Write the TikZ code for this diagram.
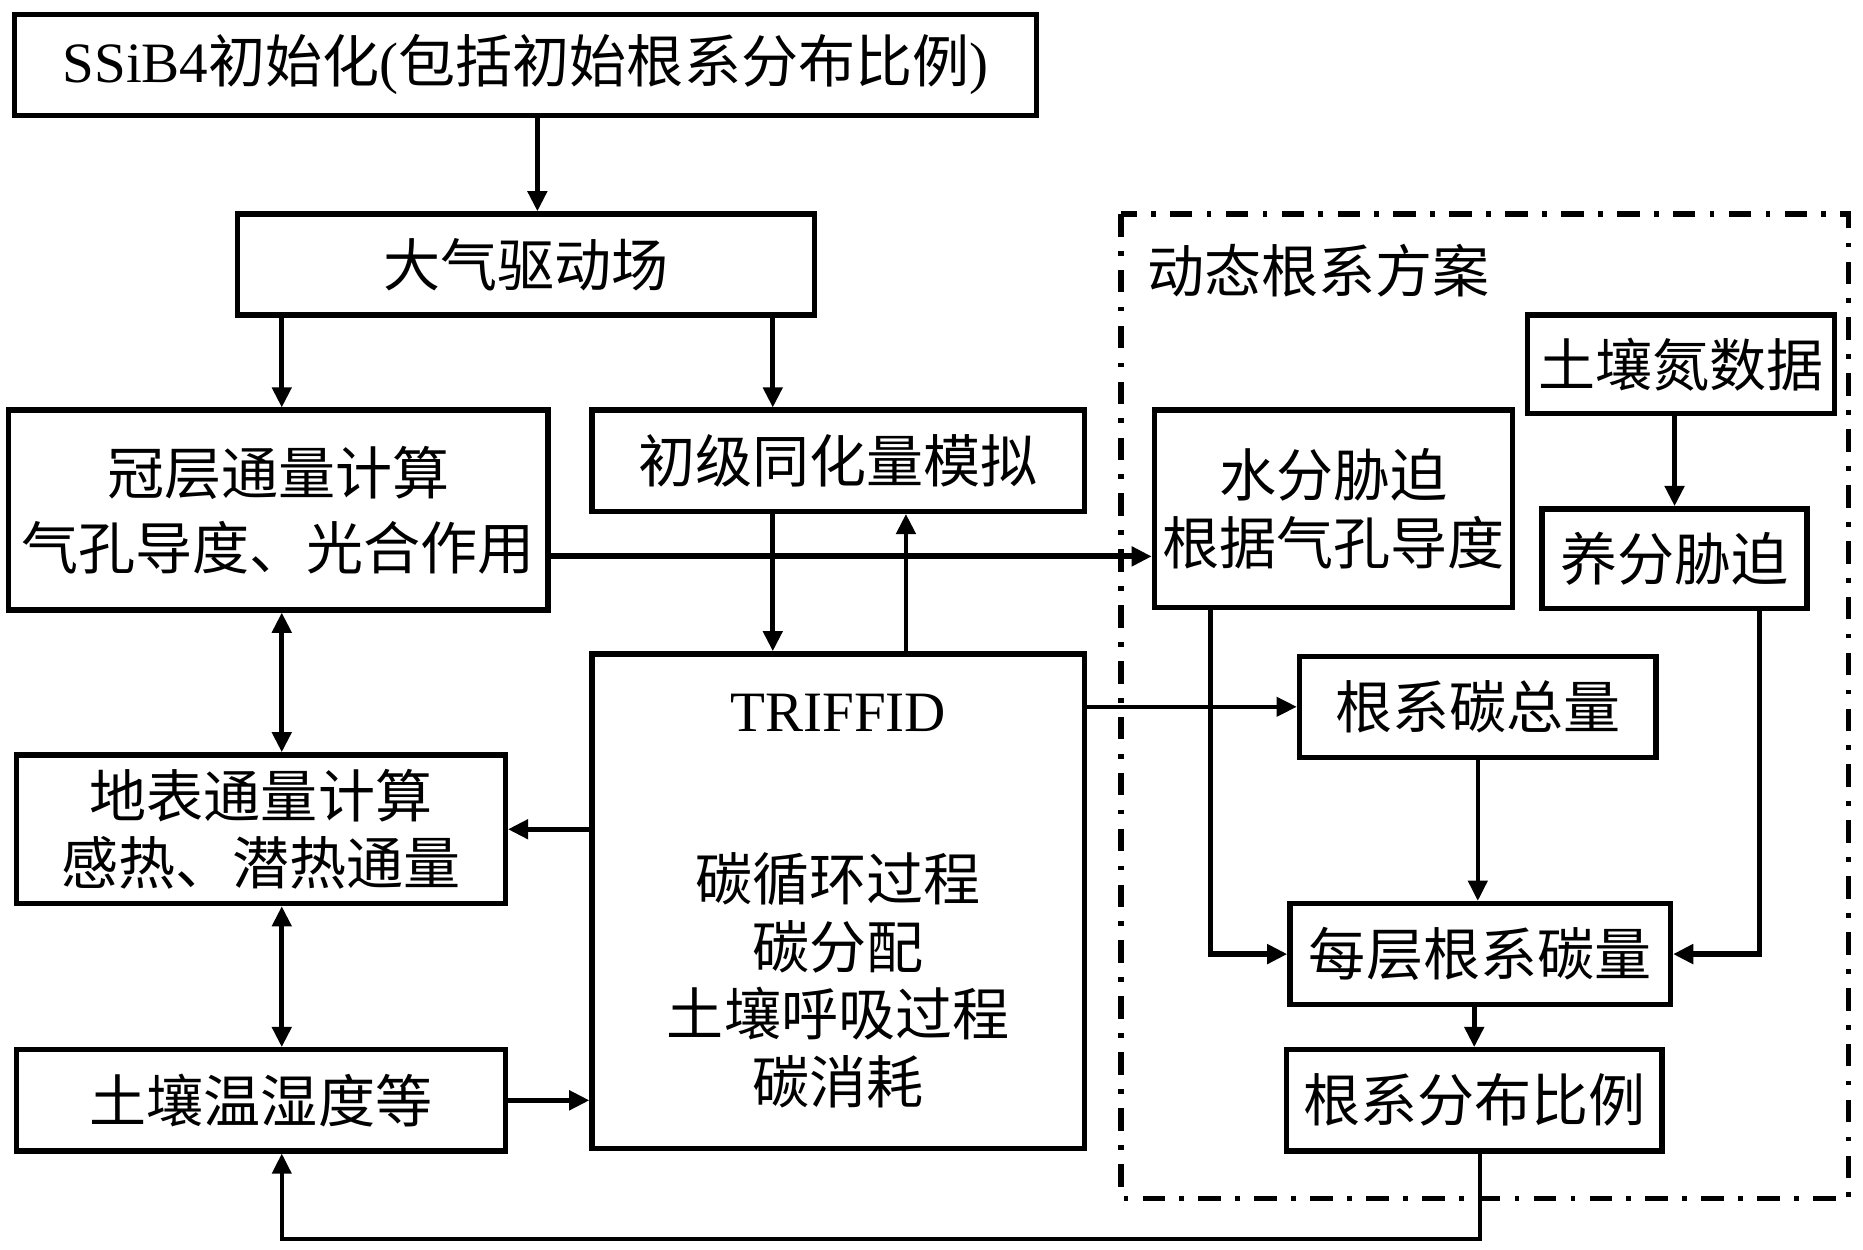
\documentclass[tikz,border=0pt]{standalone}
\usepackage{fontspec}
\setmainfont{Liberation Serif}
\newfontfamily\cjk{Noto Sans CJK SC}
\usetikzlibrary{arrows.meta}
\begin{document}
\begin{tikzpicture}[x=1pt,y=-1pt,
  box/.style={draw, line width=4.5pt, inner sep=0pt, align=center,
    font=\cjk\fontsize{48}{57}\selectfont},
  arr/.style={line width=4pt, -{Triangle[length=17pt,width=16pt]}},
  darr/.style={line width=4pt, {Triangle[length=17pt,width=16pt]}-{Triangle[length=17pt,width=16pt]}},
  dashdot/.style={line width=4.5pt, dash pattern=on 19pt off 12pt on 4pt off 12pt},
]
\useasboundingbox (0,0) rectangle (1567,1050.6);

% left column
\node[box, minimum width=860pt, minimum height=85pt] (top) at (442,54.5)
  {{\rmfamily SSiB4}初始化{\rmfamily(}包括初始根系分布比例{\rmfamily)}};
\node[box, minimum width=485pt, minimum height=85pt] (atm) at (442.5,222.5) {大气驱动场};
\node[box, minimum width=454pt, minimum height=168pt] (can) at (234,429)
  {冠层通量计算\\[6pt]气孔导度、光合作用};
\node[box, minimum width=414pt, minimum height=85pt] (gpp) at (705,387.5) {初级同化量模拟};
\node[box, minimum width=414pt, minimum height=416pt] (trif) at (705,758)
  {{\rmfamily TRIFFID}\\[85pt]碳循环过程\\碳分配\\土壤呼吸过程\\碳消耗};
\node[box, minimum width=411pt, minimum height=125pt] (surf) at (219.5,697.5)
  {地表通量计算\\感热、潜热通量};
\node[box, minimum width=411pt, minimum height=85pt] (soil) at (219.5,925.5) {土壤温湿度等};

% dynamic root scheme
\draw[dashdot] (943,180) rectangle (1555,1008);
\node[font=\cjk\fontsize{48}{57}\selectfont, anchor=west, inner sep=0pt] (lab) at (965,228) {动态根系方案};
\node[box, minimum width=258pt, minimum height=83pt] (nit) at (1414,306.5) {土壤氮数据};
\node[box, minimum width=223pt, minimum height=84pt] (nut) at (1408.5,470) {养分胁迫};
\node[box, minimum width=301pt, minimum height=166pt] (wat) at (1121.5,428)
  {水分胁迫\\根据气孔导度};
\node[box, minimum width=300pt, minimum height=85pt] (rtot) at (1243,594.5) {根系碳总量};
\node[box, minimum width=320pt, minimum height=85pt] (layer) at (1245,802.5) {每层根系碳量};
\node[box, minimum width=316pt, minimum height=85pt] (dist) at (1240,925.5) {根系分布比例};

% connectors
\draw[arr] ([xshift=10pt]top.south) -- ([xshift=10pt]top.south |- atm.north);
\draw[arr] ([xshift=3pt]can.north |- atm.south) -- ([xshift=3pt]can.north);
\draw[arr] ([xshift=-55pt]gpp.north |- atm.south) -- ([xshift=-55pt]gpp.north);
\draw[arr] ([xshift=-55pt]gpp.south) -- ([xshift=-55pt]gpp.south |- trif.north);
\draw[arr] ([xshift=57pt]trif.north) -- ([xshift=57pt]trif.north |- gpp.south);
\draw[arr, line width=5pt] ([yshift=-39pt]can.east) coordinate (c1) -- (c1 -| wat.west);
\draw[arr, line width=3.5pt] (trif.east |- rtot.west) -- (rtot.west);
\draw[arr] (trif.west |- surf.east) -- (surf.east);
\draw[arr] (soil.east) -- (soil.east -| trif.west);
\draw[darr] ([xshift=3pt]can.south) -- ([xshift=3pt]can.south |- surf.north);
\draw[darr] ([xshift=3pt]can.south |- surf.south) -- ([xshift=3pt]can.south |- soil.north);
\draw[arr, line width=3.5pt] ([xshift=5pt]dist.south) -- ++(0,72) -| ([xshift=17.5pt]soil.south);
\draw[arr] (nut.north |- nit.south) -- (nut.north);
\draw[arr, line width=3.5pt] (rtot.south) -- (rtot.south |- layer.north);
\draw[arr, line width=4.5pt] ([xshift=-103.5pt]wat.south) |- (layer.west);
\draw[arr, line width=4.5pt] ([xshift=71.5pt]nut.south) |- (layer.east);
\draw[arr] (dist.north |- layer.south) -- (dist.north);
\end{tikzpicture}
\end{document}
